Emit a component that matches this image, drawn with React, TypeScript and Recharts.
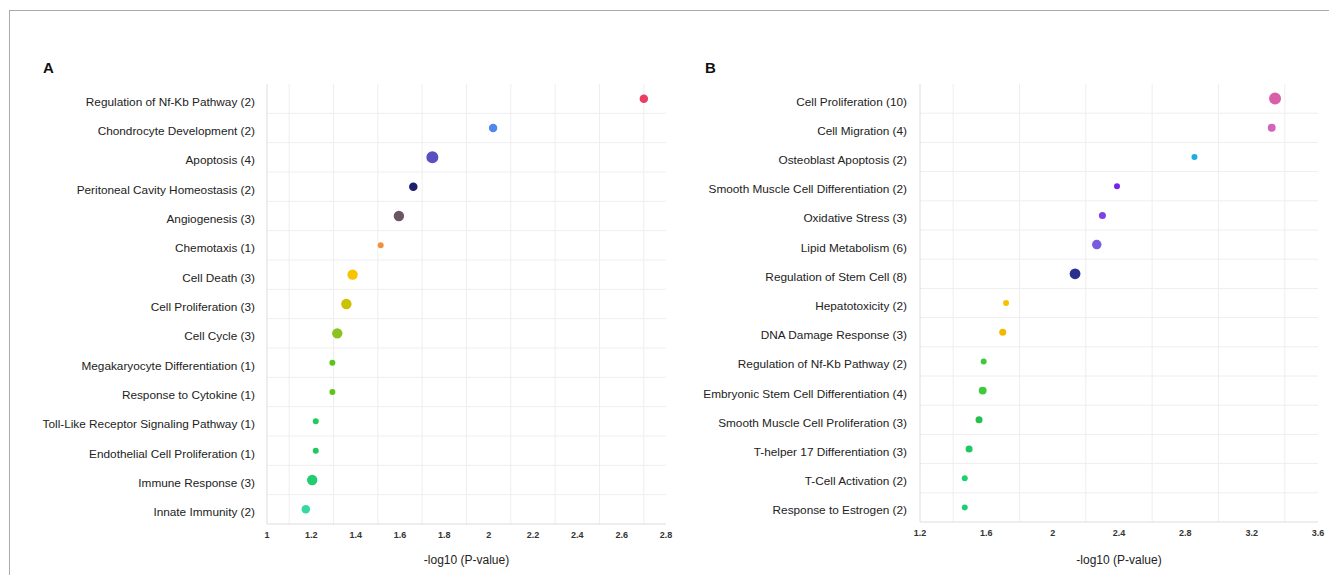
import React from "react";
import {
  ScatterChart,
  Scatter,
  XAxis,
  YAxis,
  ZAxis,
  CartesianGrid,
  Cell,
  Label,
} from "recharts";

// ---------- Panel A data ----------
const termsA = [
  "Regulation of Nf-Kb Pathway (2)",
  "Chondrocyte Development (2)",
  "Apoptosis (4)",
  "Peritoneal Cavity Homeostasis (2)",
  "Angiogenesis (3)",
  "Chemotaxis (1)",
  "Cell Death (3)",
  "Cell Proliferation (3)",
  "Cell Cycle (3)",
  "Megakaryocyte Differentiation (1)",
  "Response to Cytokine (1)",
  "Toll-Like Receptor Signaling Pathway (1)",
  "Endothelial Cell Proliferation (1)",
  "Immune Response (3)",
  "Innate Immunity (2)",
];
const valuesA = [2.7, 2.02, 1.746, 1.66, 1.595, 1.513, 1.386, 1.358, 1.317, 1.295, 1.295, 1.22, 1.22, 1.204, 1.175];
const countsA = [2, 2, 4, 2, 3, 1, 3, 3, 3, 1, 1, 1, 1, 3, 2];
const colorsA = [
  "#ec3d63", "#4d88ea", "#5b4fc2", "#1b1f6e", "#6b5563", "#f2913c", "#f6c400", "#cbc102",
  "#8cc220", "#5cc41c", "#5cc41c", "#1ecb5c", "#1ecb5c", "#22cd72", "#33d8a2",
];
const ticksA = [1, 1.2, 1.4, 1.6, 1.8, 2, 2.2, 2.4, 2.6, 2.8];
const gridA = [1.1, 1.3, 1.5, 1.7, 1.9, 2.1, 2.3, 2.5, 2.7];

// ---------- Panel B data ----------
const termsB = [
  "Cell Proliferation (10)",
  "Cell Migration (4)",
  "Osteoblast Apoptosis (2)",
  "Smooth Muscle Cell Differentiation (2)",
  "Oxidative Stress (3)",
  "Lipid Metabolism (6)",
  "Regulation of Stem Cell (8)",
  "Hepatotoxicity (2)",
  "DNA Damage Response (3)",
  "Regulation of Nf-Kb Pathway (2)",
  "Embryonic Stem Cell Differentiation (4)",
  "Smooth Muscle Cell Proliferation (3)",
  "T-helper 17 Differentiation (3)",
  "T-Cell Activation (2)",
  "Response to Estrogen (2)",
];
const valuesB = [3.341, 3.321, 2.855, 2.388, 2.3, 2.266, 2.135, 1.719, 1.699, 1.584, 1.578, 1.556, 1.496, 1.47, 1.47];
const countsB = [10, 4, 2, 2, 3, 6, 8, 2, 3, 2, 4, 3, 3, 2, 2];
const colorsB = [
  "#d95fa8", "#d264bd", "#1badE2", "#7a22e6", "#7d42e6", "#7a5ce0", "#2b2f90", "#f6c200",
  "#f1b900", "#3fc83c", "#3ec93e", "#24c24c", "#1ec862", "#1fd072", "#1fd072",
];
const ticksB = [1.2, 1.6, 2, 2.4, 2.8, 3.2, 3.6];
const gridB = [1.4, 1.8, 2.2, 2.6, 3.0, 3.4];

const rowIndex = termsA.map((_, i) => i);
const rowBounds = termsA.map((_, i) => i + 0.5).slice(0, termsA.length - 1);

const FONT = "'Liberation Sans', Arial, Helvetica, sans-serif";

const dataA = termsA.map((t, i) => ({ name: t, x: valuesA[i], y: i, z: countsA[i] }));
const dataB = termsB.map((t, i) => ({ name: t, x: valuesB[i], y: i, z: countsB[i] }));

type PanelProps = {
  data: { name: string; x: number; y: number; z: number }[];
  terms: string[];
  colors: string[];
  ticks: number[];
  grid: number[];
  zDomain: [number, number];
  width: number;
  yWidth: number;
  right: number;
  xHeight: number;
  tickMarginY: number;
};

function Panel(p: PanelProps) {
  const renderYTick = (props: any) => {
    const { x, y, payload } = props;
    return (
      <text
        x={x}
        y={y}
        dy={7}
        textAnchor="end"
        fontSize={11.8}
        fill="#222"
        fontFamily={FONT}
      >
        {p.terms[payload.value] ?? ""}
      </text>
    );
  };
  return (
    <ScatterChart
      width={p.width}
      height={583}
      margin={{ top: 84, right: p.right, bottom: 0, left: 0 }}
    >
      <CartesianGrid
        stroke="#eeeeee"
        strokeWidth={1}
        verticalValues={p.grid}
        horizontalValues={rowBounds}
      />
      <XAxis
        type="number"
        dataKey="x"
        domain={[p.ticks[0], p.ticks[p.ticks.length - 1]]}
        ticks={p.ticks}
        interval={0}
        height={p.xHeight}
        tickLine={false}
        tickSize={6}
        tickMargin={2}
        axisLine={{ stroke: "#dddddd" }}
        tick={{ fontSize: 9, fill: "#333", fontFamily: FONT, fontWeight: 700 }}
        tickFormatter={(v: number) => String(Math.round(v * 10) / 10)}
      >
        <Label
          value="-log10 (P-value)"
          position="insideBottom"
          offset={19}
          style={{ fontSize: 12, fill: "#222", fontFamily: FONT }}
        />
      </XAxis>
      <YAxis
        type="number"
        dataKey="y"
        domain={[-0.5, p.terms.length - 0.5]}
        reversed
        ticks={rowIndex}
        interval={0}
        width={p.yWidth}
        tickLine={false}
        tickSize={6}
        tickMargin={p.tickMarginY}
        axisLine={{ stroke: "#dddddd" }}
        tick={renderYTick}
      />
      <ZAxis type="number" dataKey="z" domain={p.zDomain} range={[28, 113]} />
      <Scatter data={p.data} isAnimationActive={false}>
        {p.data.map((d, i) => (
          <Cell key={d.name} fill={p.colors[i]} />
        ))}
      </Scatter>
    </ScatterChart>
  );
}

export default function App() {
  return (
    <div
      style={{
        position: "relative",
        width: 1342,
        height: 583,
        margin: -8,
        background: "#fff",
        overflow: "hidden",
        fontFamily: FONT,
      }}
    >
      <div
        style={{
          position: "absolute",
          left: 9,
          top: 10,
          width: 1320,
          height: 1,
          background: "#aaaaaa",
        }}
      />
      <div
        style={{
          position: "absolute",
          left: 9,
          top: 10,
          width: 1,
          height: 573,
          background: "#aaaaaa",
        }}
      />
      <div style={{ position: "absolute", left: 0, top: 0 }}>
        <Panel
          data={dataA}
          terms={termsA}
          colors={colorsA}
          ticks={ticksA}
          grid={gridA}
          zDomain={[1, 4]}
          width={680}
          yWidth={267}
          right={14}
          xHeight={59}
          tickMarginY={6}
        />
      </div>
      <div style={{ position: "absolute", left: 660, top: 0 }}>
        <Panel
          data={dataB}
          terms={termsB}
          colors={colorsB}
          ticks={ticksB}
          grid={gridB}
          zDomain={[2, 10]}
          width={682}
          yWidth={260}
          right={24}
          xHeight={61}
          tickMarginY={7}
        />
      </div>
      <div
        style={{
          position: "absolute",
          left: 43,
          top: 59,
          fontSize: 15,
          fontWeight: 700,
          color: "#111",
        }}
      >
        A
      </div>
      <div
        style={{
          position: "absolute",
          left: 705,
          top: 59,
          fontSize: 15,
          fontWeight: 700,
          color: "#111",
        }}
      >
        B
      </div>
    </div>
  );
}
